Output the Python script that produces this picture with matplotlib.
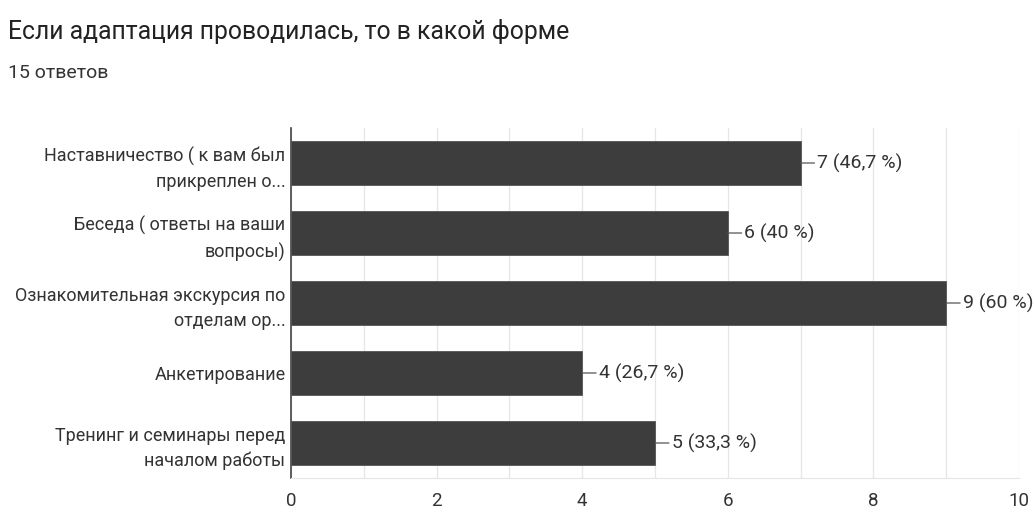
import matplotlib.pyplot as plt
from matplotlib.ticker import MultipleLocator

plt.rcParams['font.family'] = ['Roboto', 'DejaVu Sans']

# данные
категории = ['Наставничество ( к вам был\nприкреплен о...',
             'Беседа ( ответы на ваши\nвопросы)',
             'Ознакомительная экскурсия по\nотделам ор...',
             'Анкетирование',
             'Тренинг и семинары перед\nначалом работы']
значения = [7, 6, 9, 4, 5]
подписи = ['7 (46,7 %)', '6 (40 %)', '9 (60 %)', '4 (26,7 %)', '5 (33,3 %)']
тики = [0, 2, 4, 6, 8, 10]

fig = plt.figure(figsize=(10.33, 5.12), dpi=100)
ax = fig.add_axes([291 / 1033, 1 - 478 / 512, 728 / 1033, 350 / 512])

pos = list(range(len(категории)))
ax.barh(pos, значения, height=0.62, color='#3d3d3d', edgecolor='#555555', linewidth=0.6, zorder=3)
ax.set_ylim(len(категории) - 0.5, -0.5)
ax.set_xlim(0, 10)

ax.set_yticks(pos)
ax.set_yticklabels(категории, fontsize=13, color='#333333', linespacing=1.5)
ax.set_xticks(тики)
ax.set_xticklabels([str(t) for t in тики], fontsize=13.5, color='#333333')
ax.xaxis.set_minor_locator(MultipleLocator(1))
ax.tick_params(axis='y', length=0, pad=4)
ax.tick_params(axis='x', which='both', length=0, pad=10)
ax.grid(axis='x', which='both', color='#e6e6e6', linewidth=0.9, zorder=0)

for s in ['top', 'right']:
    ax.spines[s].set_visible(False)
ax.spines['bottom'].set_color('#e6e6e6')
ax.spines['left'].set_color('#444444')
ax.spines['left'].set_linewidth(1.2)

# подписи значений с выносной линией
for y, v, t in zip(pos, значения, подписи):
    ax.annotate(t, xy=(v, y), xytext=(12, 0), textcoords='offset points',
                va='center', ha='left', fontsize=14, color='#333333',
                arrowprops=dict(arrowstyle='-', color='#555555', lw=0.9,
                                shrinkA=0, shrinkB=0), annotation_clip=False)

fig.text(8 / 1033, 1 - 32 / 512, 'Если адаптация проводилась, то в какой форме',
         fontsize=17.8, color='#222222', va='center', ha='left')
fig.text(8 / 1033, 1 - 73 / 512, '15 ответов', fontsize=14, color='#333333',
         va='center', ha='left')

fig.savefig('out.png', dpi=100, facecolor='white')
